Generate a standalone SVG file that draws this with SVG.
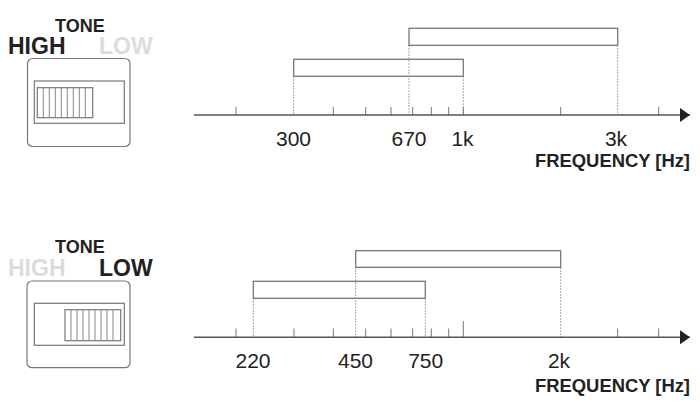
<svg xmlns="http://www.w3.org/2000/svg" width="700" height="420" viewBox="0 0 700 420">
<style>
text{font-family:"Liberation Sans",Arial,sans-serif;fill:#222}
.num{font-size:21px;text-anchor:middle}
.freq{font-size:18.4px;font-weight:bold;text-anchor:end}
.tone{font-size:18px;font-weight:bold}
.hl{font-size:23px;font-weight:bold}
.off{fill:#dcdcdc}
.axis{stroke:#555;stroke-width:1.6;fill:none}
.tick{stroke:#777;stroke-width:1;fill:none}
.dot{stroke:#888;stroke-width:1;stroke-dasharray:1.5 1.5;fill:none}
.bar{stroke:#777;stroke-width:1.3;fill:#fff}
.box{stroke:#777;stroke-width:1.2;fill:#fff}
.grip{stroke:#888;stroke-width:1;fill:none}
</style>
<defs>
<marker id="arr" viewBox="0 0 10 14" refX="10" refY="7" markerWidth="10" markerHeight="14" markerUnits="userSpaceOnUse" orient="auto">
<path d="M0,0 L10,7 L0,14 Z" fill="#222"/>
</marker>
</defs>

<g id="switch-high">
<text class="tone" x="55" y="31.5">TONE</text>
<text class="hl" x="8" y="54">HIGH</text>
<text class="hl off" x="99" y="54">LOW</text>
<rect class="box" x="27.5" y="58.5" width="102.5" height="88" rx="5"/>
<rect class="box" x="34.3" y="81" width="90" height="42.3"/>
<rect class="box" x="37.3" y="87.7" width="55.4" height="30"/>
<path class="grip" d="M43.3,87.7V117.7M49.3,87.7V117.7M55.3,87.7V117.7M61.3,87.7V117.7M67.3,87.7V117.7M73.3,87.7V117.7M79.3,87.7V117.7M85.3,87.7V117.7"/>
</g>

<g id="chart-high">
<rect class="bar" x="409" y="28.3" width="208.7" height="17"/>
<rect class="bar" x="293.7" y="59.3" width="169.6" height="17"/>
<path class="dot" d="M293.7,76.3V115M409,45.3V115M463.3,76.3V115M617.7,45.3V115"/>
<path class="tick" d="M236,107V115M333.3,107V115M365.7,107V115M391,107V115M412.7,107V115M431.3,107V115M448.7,107V115M463.3,107V115M560.7,107V115M658.7,107V115"/>
<text class="num" x="293.5" y="146">300</text>
<text class="num" x="409" y="146">670</text>
<text class="num" x="462.5" y="146">1k</text>
<text class="num" x="616" y="146">3k</text>
<text class="freq" x="690" y="167">FREQUENCY [Hz]</text>
</g>

<g id="switch-low">
<text class="tone" x="55" y="252.5">TONE</text>
<text class="hl off" x="8" y="275.5">HIGH</text>
<text class="hl" x="99" y="275.5">LOW</text>
<rect class="box" x="27" y="281" width="103" height="86.7" rx="5"/>
<rect class="box" x="34.3" y="303.3" width="90" height="42"/>
<rect class="box" x="65" y="309.7" width="55.7" height="31"/>
<path class="grip" d="M71,309.7V340.7M77,309.7V340.7M83,309.7V340.7M89,309.7V340.7M95,309.7V340.7M101,309.7V340.7M107,309.7V340.7M113,309.7V340.7"/>
</g>

<g id="chart-low">
<rect class="bar" x="355.7" y="250.7" width="205" height="16.6"/>
<rect class="bar" x="253.3" y="281.3" width="172" height="17"/>
<path class="dot" d="M253.3,298.3V337.3M355.7,267.3V337.3M425.3,298.3V337.3M560.7,267.3V337.3"/>
<path class="tick" d="M236,328.5V337.3M294,328.5V337.3M333.3,328.5V337.3M365.7,328.5V337.3M391,328.5V337.3M412.7,328.5V337.3M431.3,328.5V337.3M448.7,328.5V337.3M463.3,321V337.3M617.7,328.5V337.3M658.7,328.5V337.3"/>
<text class="num" x="253" y="368.3">220</text>
<text class="num" x="355.5" y="368.3">450</text>
<text class="num" x="425.7" y="368.3">750</text>
<text class="num" x="559" y="368.3">2k</text>
<text class="freq" x="690" y="391.5">FREQUENCY [Hz]</text>
</g>

<g id="connectors">
<line class="axis" x1="194" y1="115" x2="690" y2="115" marker-end="url(#arr)"/>
<line class="axis" x1="194" y1="337.3" x2="690" y2="337.3" marker-end="url(#arr)"/>
</g>
</svg>
